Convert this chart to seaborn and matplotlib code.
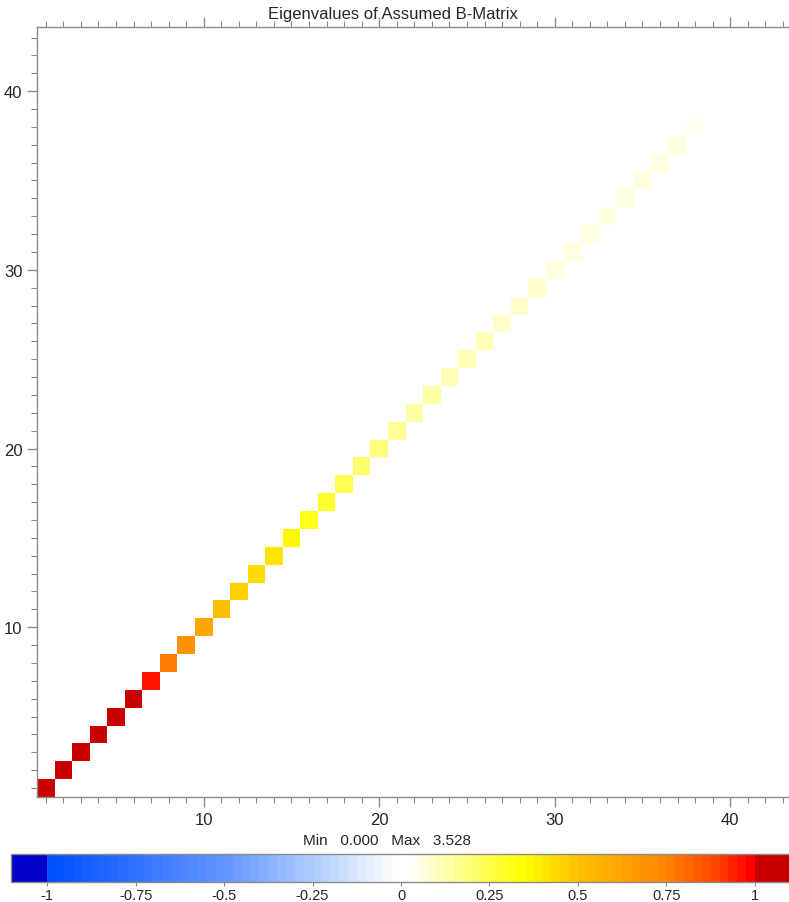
import numpy as np
import pandas as pd
import matplotlib
matplotlib.use("Agg")
import matplotlib.pyplot as plt
import seaborn as sns
from matplotlib.colors import LinearSegmentedColormap

# ---- data ----
eig_index = list(range(1, 39))
eig_values = [3.528, 2.90, 2.40, 1.90, 1.50, 1.15,
              0.95, 0.76, 0.69, 0.60, 0.50, 0.47, 0.43, 0.40, 0.35,
              0.30, 0.275, 0.225, 0.20, 0.175, 0.16, 0.143, 0.13, 0.118,
              0.105, 0.10, 0.093, 0.087, 0.080, 0.074, 0.070, 0.066,
              0.062, 0.058, 0.055, 0.052, 0.050, 0.047]
major_ticks = [10, 20, 30, 40]
cbar_ticks = [-1, -0.75, -0.5, -0.25, 0, 0.25, 0.5, 0.75, 1]
cbar_labels = ["-1", "-0.75", "-0.5", "-0.25", "0", "0.25", "0.5", "0.75", "1"]
title = "Eigenvalues of Assumed B-Matrix"
minmax_text = "Min   0.000   Max   3.528"

n = len(eig_index)
mat = np.zeros((n, n))
for i, v in zip(eig_index, eig_values):
    mat[i - 1, i - 1] = v
df = pd.DataFrame(mat, index=eig_index, columns=eig_index)
mask = df == 0

# ---- colormap ----
nodes = [
    (0.0, (0/255, 80/255, 1.0)),
    (0.25, (100/255, 150/255, 1.0)),
    (0.375, (175/255, 205/255, 1.0)),
    (0.485, (250/255, 252/255, 1.0)),
    (0.5, (1.0, 1.0, 1.0)),
    (0.515, (1.0, 1.0, 250/255)),
    (0.675, (1.0, 1.0, 0.0)),
    (0.75, (1.0, 195/255, 0.0)),
    (0.875, (1.0, 135/255, 0.0)),
    (0.95, (1.0, 70/255, 0.0)),
    (1.0, (1.0, 0.0, 0.0)),
]
cmap = LinearSegmentedColormap.from_list("bwr_custom", nodes, N=80)
cmap.set_under("#0000C8")
cmap.set_over("#C80000")

sns.set_style("white")
plt.rcParams["font.family"] = ["Liberation Sans", "DejaVu Sans"]

W, H = 789, 903
fig = plt.figure(figsize=(W / 100, H / 100), dpi=100)
ax = fig.add_axes([37 / W, 1 - 798 / H, (W - 37) / W, 770 / H])
cax = fig.add_axes([11 / W, 1 - 883 / H, 780 / W, 28 / H])

sns.heatmap(df, ax=ax, mask=mask, cmap=cmap, vmin=-1, vmax=1, cbar=True,
            cbar_ax=cax, xticklabels=False, yticklabels=False, linewidths=0,
            cbar_kws=dict(orientation="horizontal", extend="both",
                          extendrect=True, extendfrac=0.051, ticks=cbar_ticks))

ax.set_xlim(0, (W - 37) / 17.55)
ax.set_ylim(0, 770 / 17.87)
ax.set_xlabel("")
ax.set_ylabel("")

grey = "#8a8a8a"
maj = [t - 0.5 for t in major_ticks]
mnr = [k - 0.5 for k in range(1, 44) if k not in major_ticks]
for axis in (ax.xaxis, ax.yaxis):
    axis.set_major_locator(matplotlib.ticker.FixedLocator(maj))
    axis.set_minor_locator(matplotlib.ticker.FixedLocator(mnr))
ax.set_xticklabels([str(t) for t in major_ticks])
ax.set_yticklabels([str(t) for t in major_ticks], rotation=0)
ax.tick_params(which="both", direction="out", color=grey, labelsize=12,
               top=True, bottom=True, left=True, right=False,
               labeltop=False, labelbottom=True, labelleft=True)
ax.tick_params(which="major", length=7, width=1)
ax.tick_params(which="minor", length=4, width=0.8)
for s in ("left", "bottom", "top"):
    ax.spines[s].set_visible(True)
    ax.spines[s].set_color(grey)
    ax.spines[s].set_linewidth(1)
ax.spines["right"].set_visible(False)

cbar = ax.collections[0].colorbar
cbar.set_ticks(cbar_ticks)
cbar.set_ticklabels(cbar_labels)
cbar.outline.set_edgecolor(grey)
cbar.outline.set_linewidth(1)
cax.tick_params(direction="out", length=3, color=grey, labelsize=10.5, pad=1)

fig.text(0.498, 1 - 14 / H, title, ha="center", va="center", fontsize=12)
fig.text(387 / W, 1 - 841 / H, minmax_text, ha="center", va="center", fontsize=11)

fig.savefig("out.png", dpi=100)
